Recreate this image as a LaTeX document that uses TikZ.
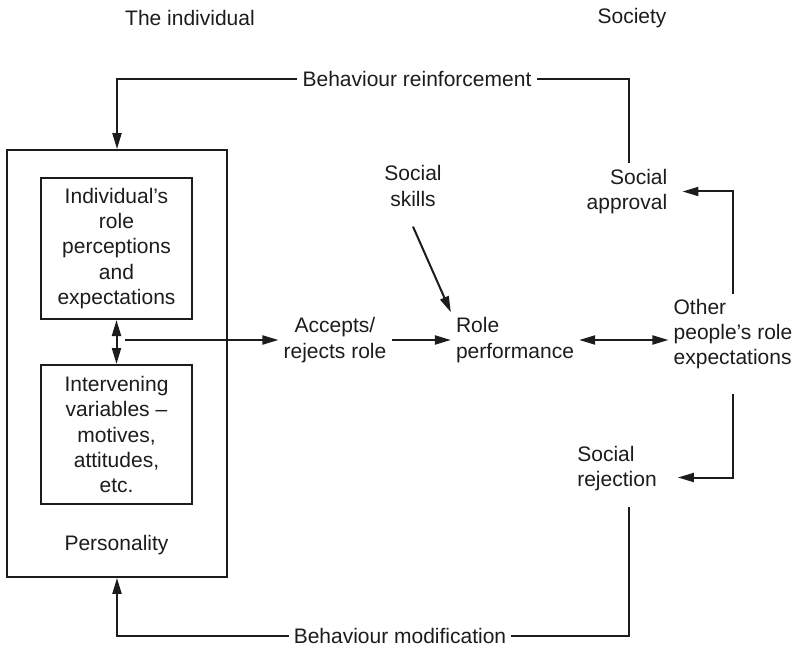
\documentclass[tikz,border=0pt]{standalone}
\usepackage{fontspec}
\setmainfont{Liberation Sans}
\usetikzlibrary{arrows.meta, positioning, calc}
\definecolor{InkBlack}{HTML}{1C1C1C}

\tikzset{
  every node/.style={font=\fontsize{21}{25.4}\selectfont, text=InkBlack, inner sep=5pt},
  wordbox/.style={draw=InkBlack, line width=2pt, align=center, minimum width=151pt},
  link/.style={draw=InkBlack, line width=2pt},
  onearrow/.style={-{Triangle[length=16pt,width=9pt]}},
  twoarrow/.style={{Triangle[length=16pt,width=9pt]}-{Triangle[length=16pt,width=9pt]}},
}

\begin{document}
\begin{tikzpicture}[x=1pt, y=-1pt]
\useasboundingbox (0,0) rectangle (798,647);

\node (indiv) at (190,18) {The individual};
\node (society) at (632,18) {Society};

\node[draw=InkBlack, line width=1.8pt, minimum width=220pt, minimum height=427pt] (persbox) at (117,363.5) {};
\node[wordbox, minimum height=141pt] (percep) at (116.5,248.5) {Individual's\\role\\perceptions\\and\\expectations};
\node[wordbox, minimum height=139pt] (interv) at (116.5,434.5) {Intervening\\variables --\\motives,\\attitudes,\\etc.};
\node (pers) at (116.5,545) {Personality};

\node[align=center] (accept) at (335,340) {Accepts/\\rejects role};
\node[align=left] (role) at (515,340) {Role\\performance};
\node[align=center] (skills) at (413,186) {Social\\skills};
\node[align=left] (other) at (733,334) {Other\\people's role\\expectations};
\node[align=right] (approval) at (627,191.5) {Social\\approval};
\node[align=left] (rejection) at (617,468.5) {Social\\rejection};
\node (reinf) at (417,79) {Behaviour reinforcement};
\node[inner ysep=0.5pt] (modif) at (400,636) {Behaviour modification};

\coordinate (split) at (125,340);
\coordinate (apprtop) at (629,163);
\coordinate (rejbot) at (629,507);

\draw[link] (apprtop) |- (reinf.east);
\draw[link, onearrow] (reinf.west) -| (persbox.north);
\draw[link, twoarrow] (percep.south) -- (interv.north);
\draw[link, onearrow] (split) -- (accept);
\draw[link, onearrow] (accept) -- (role);
\draw[link, onearrow] ([yshift=-15pt]skills.south) -- (role.north west);
\draw[link, twoarrow] (role.east) -- (role.east -| other.west);
\draw[link, onearrow, shorten >=10pt] (other.north) |- (approval.east);
\draw[link, onearrow, shorten <=20pt, shorten >=16pt] (other.south) |- ([yshift=-9pt]rejection.east);
\draw[link] (rejbot) |- (modif.east);
\draw[link, onearrow] (modif.west) -| (persbox.south);
\end{tikzpicture}
\end{document}
